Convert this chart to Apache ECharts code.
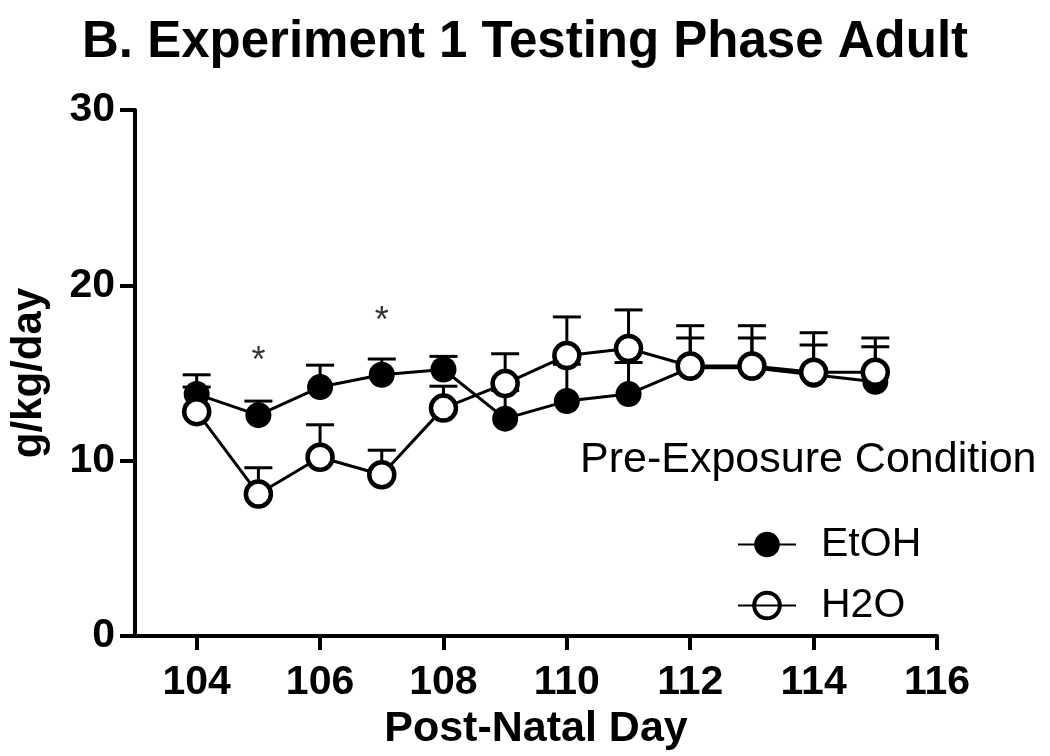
<!DOCTYPE html>
<html>
<head>
<meta charset="utf-8">
<script src="https://cdn.jsdelivr.net/npm/echarts@6/dist/echarts.min.js"></script>
<style>
html,body{margin:0;padding:0;background:#fff;}
#chart{width:1050px;height:756px;}
</style>
</head>
<body>
<div id="chart"></div>
<script>
const days = [104,105,106,107,108,109,110,111,112,113,114,115];
const etohMean = [13.8,12.6,14.2,14.9,15.2,12.4,13.4,13.8,15.3,15.3,14.9,14.5];
const etohUpper = [14.9,13.4,15.45,15.8,15.95,14.0,15.5,15.6,17.0,17.0,16.6,16.5];
const h2oMean = [12.8,8.1,10.2,9.2,13.0,14.4,16.0,16.4,15.4,15.4,15.05,15.05];
const h2oUpper = [14.2,9.6,12.05,10.6,14.25,16.1,18.2,18.6,17.7,17.7,17.3,17.0];
const starDays = [105,107];
const starValues = [15.6,17.9];
const xTicks = [104,106,108,110,112,114,116];
const yTicks = [0,10,20,30];

const FONT = 'Liberation Sans, Arial, sans-serif';
const chart = echarts.init(document.getElementById('chart'));

function errData(means, uppers){
  return days.map((d,i)=>[d, means[i], uppers[i]]);
}
function errRender(params, api){
  const x = api.value(0);
  const lo = api.coord([x, api.value(1)]);
  const hi = api.coord([x, api.value(2)]);
  const hw = 14;
  return {
    type:'group',
    children:[
      {type:'line', shape:{x1:lo[0],y1:lo[1],x2:hi[0],y2:hi[1]}, style:{stroke:'#000',lineWidth:3}},
      {type:'line', shape:{x1:hi[0]-hw,y1:hi[1],x2:hi[0]+hw,y2:hi[1]}, style:{stroke:'#000',lineWidth:3}}
    ]
  };
}

chart.setOption({
  animation:false,
  backgroundColor:'#fff',
  title:{
    text:'B. Experiment 1 Testing Phase Adult',
    left:'center', top:12,
    textStyle:{fontFamily:FONT, fontSize:51, fontWeight:'bold', color:'#000'}
  },
  legend:{
    orient:'vertical',
    left:732, top:519,
    itemWidth:58, itemHeight:32, itemGap:20,
    data:[{name:'EtOH'},{name:'H2O', itemStyle:{color:'rgba(255,255,255,0)', borderColor:'#000', borderWidth:4}}],
    textStyle:{fontFamily:FONT, fontSize:41, color:'#000', padding:[0,0,0,20]}
  },
  graphic:[{
    type:'text', left:580, top:439,
    style:{text:'Pre-Exposure Condition', font:'43px '+FONT, fill:'#000'}
  }],
  grid:{left:133, right:113, top:110, bottom:119},
  xAxis:{
    type:'value', min:103, max:116,
    name:'Post-Natal Day', nameLocation:'middle', nameGap:70,
    nameTextStyle:{fontFamily:FONT, fontSize:43, fontWeight:'bold', color:'#000'},
    axisLine:{onZero:false, lineStyle:{color:'#000', width:4}},
    axisTick:{show:true, length:14, lineStyle:{color:'#000', width:4}, customValues:xTicks},
    axisLabel:{fontFamily:FONT, fontSize:41, fontWeight:'bold', color:'#000', margin:26, customValues:xTicks},
    splitLine:{show:false}
  },
  yAxis:{
    type:'value', min:0, max:30, interval:10,
    name:'g/kg/day', nameLocation:'middle', nameGap:85,
    nameTextStyle:{fontFamily:FONT, fontSize:42, fontWeight:'bold', color:'#000'},
    axisLine:{show:true, lineStyle:{color:'#000', width:4}},
    axisTick:{show:true, length:15, lineStyle:{color:'#000', width:4}},
    axisLabel:{fontFamily:FONT, fontSize:41, fontWeight:'bold', color:'#000', margin:20},
    splitLine:{show:false}
  },
  series:[
    {type:'custom', name:'errE', renderItem:errRender, data:errData(etohMean, etohUpper), z:1, silent:true},
    {type:'custom', name:'errH', renderItem:errRender, data:errData(h2oMean, h2oUpper), z:1, silent:true},
    {
      type:'line', name:'EtOH', data:days.map((d,i)=>[d, etohMean[i]]),
      symbol:'circle', symbolSize:26,
      lineStyle:{color:'#000', width:3},
      itemStyle:{color:'#000', borderColor:'#000', borderWidth:0},
      z:3
    },
    {
      type:'line', name:'H2O', data:days.map((d,i)=>[d, h2oMean[i]]),
      symbol:'circle', symbolSize:25,
      lineStyle:{color:'#000', width:3},
      itemStyle:{color:'#fff', borderColor:'#000', borderWidth:4.5},
      z:4
    },
    {
      type:'scatter', name:'stars', data:starDays.map((d,i)=>[d, starValues[i]]),
      symbol:'circle', symbolSize:1, silent:true,
      itemStyle:{color:'rgba(0,0,0,0)'},
      label:{show:true, position:'inside', formatter:'*', fontFamily:FONT, fontSize:36, color:'#000'},
      z:5
    }
  ]
});
</script>
</body>
</html>
